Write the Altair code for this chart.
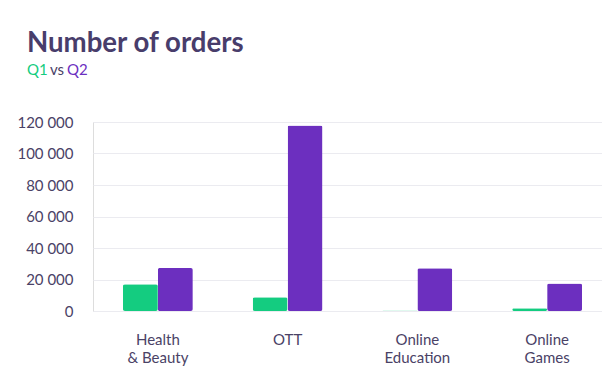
import altair as alt
import pandas as pd

categories = ["Health\n& Beauty", "OTT", "Online\nEducation", "Online\nGames"]
q1_values = [17000, 8700, 300, 1800]
q2_values = [27300, 117800, 27100, 17400]
y_ticks = [0, 20000, 40000, 60000, 80000, 100000, 120000]

rows = []
for c, a, b in zip(categories, q1_values, q2_values):
    rows.append({"category": c, "quarter": "Q1", "orders": a})
    rows.append({"category": c, "quarter": "Q2", "orders": b})
df = pd.DataFrame(rows)

FONT = "Lato"
TEXT = "#4a4266"
GREEN = "#14cc80"
PURPLE = "#6c2fbf"

bars = alt.Chart(df).mark_bar(cornerRadius=2).encode(
    x=alt.X("category:N", sort=categories,
            scale=alt.Scale(paddingInner=0, paddingOuter=0, range=[0, 519]),
            axis=alt.Axis(title=None, labelExpr="split(datum.label, '\\n')",
                          labelAngle=0, labelFont=FONT, labelFontSize=15,
                          labelColor=TEXT, labelPadding=21, ticks=False,
                          domain=False, labelLineHeight=18, grid=False,
                          labelBaseline="top")),
    xOffset=alt.XOffset("quarter:N",
                        scale=alt.Scale(paddingInner=0, paddingOuter=0.857)),
    y=alt.Y("orders:Q", scale=alt.Scale(domain=[0, 120000], nice=False),
            axis=alt.Axis(title=None, values=y_ticks, labelExpr="replace(format(datum.value, ','), /,/g, ' ')",
                          labelFont=FONT, labelFontSize=15, labelColor=TEXT,
                          labelPadding=20, ticks=False, domain=False,
                          gridColor="#ebebf0", gridWidth=1)),
    color=alt.Color("quarter:N", scale=alt.Scale(domain=["Q1", "Q2"], range=[GREEN, PURPLE]),
                    legend=None),
)

title = alt.Chart(pd.DataFrame({"t": ["Number of orders"]})).mark_text(
    align="left", baseline="alphabetic", font=FONT, fontSize=27.6, fontWeight="bold",
    color="#483d6b").encode(text="t:N", x=alt.value(-66), y=alt.value(-70))

sub_df = pd.DataFrame({"t": ["Q1", "vs", "Q2"], "dx": [-66, -43, -26],
                       "c": [GREEN, TEXT, PURPLE]})
subtitle = alt.Chart(sub_df).mark_text(
    align="left", baseline="alphabetic", font=FONT, fontSize=15).encode(
    text="t:N", x=alt.X("dx:Q", scale=None), y=alt.value(-47),
    color=alt.Color("c:N", scale=None))

chart = alt.layer(bars, title, subtitle).properties(
    width=509, height=189,
    padding={"left": 85, "top": 114, "right": 0, "bottom": 60},
    autosize=alt.AutoSizeParams(type="none"),
).configure_view(stroke=None).configure(background="white")

chart.save("out.html", embed_options={"renderer": "svg", "actions": False})
